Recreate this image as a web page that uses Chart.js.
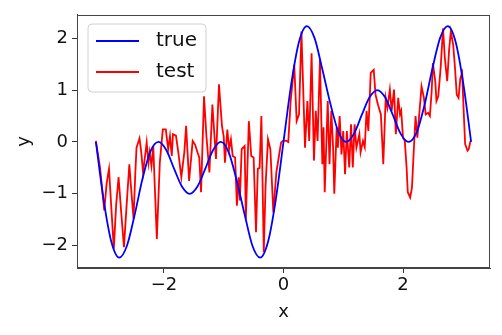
<!DOCTYPE html>
<html>
<head>
<meta charset="utf-8">
<script src="https://cdn.jsdelivr.net/npm/chart.js@4/dist/chart.umd.min.js"></script>
<style>
html,body{margin:0;padding:0;background:#fff}
canvas{display:block}
</style>
</head>
<body>
<canvas id="chart" width="502" height="335" style="width:502px;height:335px"></canvas>
<script>
// values
const trueX = [-3.14,-3.01,-2.88,-2.75,-2.62,-2.49,-2.36,-2.23,-2.09,-1.96,-1.83,-1.70,-1.57,
  -1.44,-1.31,-1.18,-1.05,-0.92,-0.79,-0.65,-0.52,-0.39,-0.26,-0.13,0,
  0.13,0.26,0.39,0.52,0.65,0.79,0.92,1.05,1.18,1.31,1.44,1.57,
  1.70,1.83,1.96,2.09,2.23,2.36,2.49,2.62,2.75,2.88,3.01,3.14]
const trueY = [0,-1.12,-1.93,-2.23,-2.00,-1.40,-0.71,-0.19,0,-0.16,-0.52,-0.86,-1.00,
  -0.86,-0.52,-0.16,0,-0.19,-0.71,-1.40,-2.00,-2.23,-1.93,-1.12,0,
  1.12,1.93,2.23,2.00,1.40,0.71,0.19,0,0.16,0.52,0.86,1.00,
  0.86,0.52,0.16,0,0.19,0.71,1.40,2.00,2.23,1.93,1.12,0]

const testX = [
  -3.14,-3.07,-3.00,-2.96,-2.92,-2.88,-2.84,-2.80,-2.76,-2.72,
  -2.67,-2.63,-2.58,-2.55,-2.51,-2.48,-2.46,-2.41,-2.38,-2.35,
  -2.32,-2.29,-2.26,-2.24,-2.21,-2.18,-2.12,-2.07,-2.02,-1.97,
  -1.93,-1.90,-1.87,-1.85,-1.80,-1.76,-1.71,-1.66,-1.63,-1.58,
  -1.52,-1.48,-1.44,-1.41,-1.38,-1.33,-1.29,-1.24,-1.19,-1.13,
  -1.08,-1.03,-1.00,-0.98,-0.94,-0.91,-0.88,-0.85,-0.81,-0.78,
  -0.75,-0.73,-0.70,-0.65,-0.63,-0.58,-0.54,-0.50,-0.46,-0.43,
  -0.40,-0.37,-0.33,-0.30,-0.26,-0.22,-0.17,-0.12,-0.08,-0.04,
  0.00,0.05,0.08,0.12,0.18,0.22,0.26,0.30,0.36,0.40,
  0.43,0.47,0.51,0.54,0.57,0.61,0.65,0.67,0.69,0.74,
  0.77,0.80,0.83,0.85,0.89,0.91,0.94,0.97,1.00,1.03,
  1.06,1.10,1.13,1.16,1.19,1.22,1.27,1.29,1.33,1.36,
  1.39,1.42,1.46,1.51,1.54,1.58,1.63,1.67,1.71,1.74,
  1.78,1.81,1.85,1.88,1.92,1.95,1.97,2.00,2.03,2.06,
  2.08,2.12,2.15,2.18,2.21,2.24,2.27,2.31,2.35,2.38,
  2.42,2.45,2.48,2.50,2.54,2.56,2.59,2.63,2.67,2.70,
  2.74,2.77,2.80,2.84,2.87,2.90,2.93,2.96,2.99,3.02,
  3.04,3.08,3.10,3.13]
const testY = [
  0.02,-0.5,-1.32,-0.8,-0.52,-1.3,-2.06,-1.2,-0.68,-1.3,
  -2.03,-1.3,-0.43,-0.9,-1.48,-0.6,-0.11,0.07,-0.2,-0.59,
  -0.3,-0.01,-0.4,-0.2,-0.46,-0.08,-1.87,-0.4,0.24,0.24,
  -0.14,0.11,-0.27,0.15,0.12,-0.2,-0.68,-0.2,0.31,-0.75,
  0.02,-0.05,-0.2,-0.3,-0.97,0.88,0.11,-0.59,0.72,-0.33,
  1.11,0.31,0.1,-0.4,0.24,-0.14,0.05,-0.27,-0.3,-1.23,
  -0.68,-1.13,-0.14,-0.08,-1.48,0.4,-0.27,-0.3,-1.74,-0.52,
  -0.5,0.5,-2.12,-0.84,0.05,-0.14,-1.36,-0.59,-0.3,-0.01,
  0.03,0.02,0.0,0.79,1.49,0.4,0.53,2.13,-0.11,0.79,
  0.02,1.71,-0.36,0.6,0.02,1.59,-0.43,0.28,-0.97,0.79,
  -0.43,0.6,-0.11,-1.0,0.28,-0.11,0.5,-0.24,0.21,-0.62,
  0.21,-0.49,0.34,-0.49,0.34,-0.11,0.15,-0.2,0.02,-0.1,
  0.6,0.21,1.33,1.39,0.91,0.72,0.53,-0.43,0.85,0.66,
  1.01,0.6,1.01,0.15,0.85,0.53,0.6,0.08,0.02,-0.49,
  -0.97,-1.07,-0.88,-0.17,0.5,0.08,0.5,1.07,0.85,0.53,
  0.56,0.5,0.98,1.52,1.17,0.79,0.88,1.43,2.19,1.62,
  1.17,1.75,2.13,1.87,1.43,0.91,0.85,1.23,1.33,0.47,
  -0.04,-0.17,-0.14,0.02]

const xTicks = [-2, 0, 2]
const yTicks = [-2, -1, 0, 1, 2]

const FONT = 'DejaVu Sans'
const fmt = v => v < 0 ? '\u2212' + Math.abs(v) : String(v)

// frame on all four sides, like the matplotlib spines
const frame = {
  id: 'frame',
  afterDatasetsDraw(chart){
    const a = chart.chartArea, ctx = chart.ctx
    ctx.save()
    ctx.strokeStyle = '#444'
    ctx.lineWidth = 1
    ctx.strokeRect(Math.round(a.left)+0.5, Math.round(a.top)+0.5, Math.round(a.right-a.left)-1, Math.round(a.bottom-a.top)-1)
    ctx.restore()
  }
}

// boxed legend in the top left corner
const boxLegend = {
  id: 'boxLegend',
  afterDraw(chart){
    const ctx = chart.ctx
    ctx.save()
    const bx = 88, by = 24, bw = 118, bh = 68, r = 4
    ctx.beginPath()
    ctx.moveTo(bx+r, by)
    ctx.arcTo(bx+bw, by, bx+bw, by+bh, r)
    ctx.arcTo(bx+bw, by+bh, bx, by+bh, r)
    ctx.arcTo(bx, by+bh, bx, by, r)
    ctx.arcTo(bx, by, bx+bw, by, r)
    ctx.closePath()
    ctx.fillStyle = 'rgba(255,255,255,0.8)'
    ctx.fill()
    ctx.strokeStyle = '#d0d0d0'
    ctx.lineWidth = 1
    ctx.stroke()
    chart.data.datasets.forEach((ds, i) => {
      const y = 41 + i * 31
      ctx.beginPath()
      ctx.moveTo(96, y)
      ctx.lineTo(139, y)
      ctx.strokeStyle = ds.borderColor
      ctx.lineWidth = ds.borderWidth
      ctx.stroke()
      ctx.fillStyle = '#111'
      ctx.font = '20px "' + FONT + '"'
      ctx.textBaseline = 'middle'
      ctx.textAlign = 'left'
      ctx.fillText(ds.label, 156, y)
    })
    ctx.restore()
  }
}

const ctx = document.getElementById('chart').getContext('2d')

new Chart(ctx, {
  type: 'line',
  data: {
    datasets: [
      {
        label: 'true',
        data: trueX.map((x, i) => ({x: x, y: trueY[i]})),
        borderColor: '#0000ff',
        borderWidth: 1.8,
        pointRadius: 0,
        cubicInterpolationMode: 'monotone',
        fill: false
      },
      {
        label: 'test',
        data: testX.map((x, i) => ({x: x, y: testY[i]})),
        borderColor: '#ff0000',
        borderWidth: 1.8,
        pointRadius: 0,
        tension: 0,
        fill: false
      }
    ]
  },
  options: {
    responsive: false,
    animation: false,
    layout: {padding: {top: 13, right: 12, left: 0, bottom: 0}},
    plugins: {legend: {display: false}, tooltip: {enabled: false}},
    scales: {
      x: {
        type: 'linear',
        min: -3.456,
        max: 3.456,
        afterBuildTicks: s => { s.ticks = xTicks.map(v => ({value: v})) },
        afterFit: s => { s.height = 67 },
        ticks: {font: {family: FONT, size: 18}, color: '#111', padding: 2, maxRotation: 0, callback: fmt},
        grid: {drawOnChartArea: false, drawTicks: true, tickLength: 5, color: '#333'},
        border: {display: true, color: '#444'},
        title: {display: true, text: 'x', font: {family: FONT, size: 18}, color: '#111', padding: {top: 0, bottom: 12}}
      },
      y: {
        type: 'linear',
        min: -2.43,
        max: 2.45,
        afterBuildTicks: s => { s.ticks = yTicks.map(v => ({value: v})) },
        afterFit: s => { s.width = 77 },
        ticks: {font: {family: FONT, size: 18}, color: '#111', padding: 4, callback: fmt},
        grid: {drawOnChartArea: false, drawTicks: true, tickLength: 5, color: '#333'},
        border: {display: true, color: '#444'},
        title: {display: true, text: 'y', font: {family: FONT, size: 18}, color: '#111', padding: {top: 14, bottom: 0}}
      }
    }
  },
  plugins: [frame, boxLegend]
})
</script>
</body>
</html>
